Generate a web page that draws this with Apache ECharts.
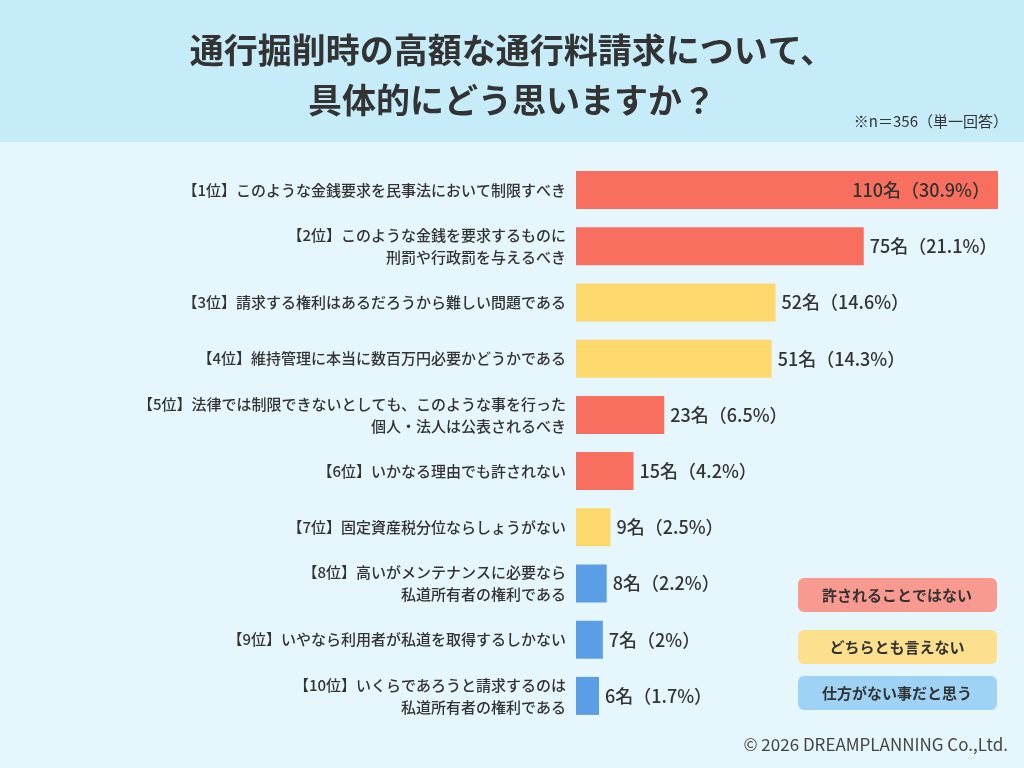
<!DOCTYPE html>
<html><head><meta charset="utf-8">
<script src="https://cdn.jsdelivr.net/npm/echarts@6/dist/echarts.min.js"></script>
<style>html,body{margin:0;padding:0;background:#e6f6fd}#c{width:1024px;height:768px}</style>
</head><body><div id="c"></div>
<script>
var labels = [
  "【1位】このような金銭要求を民事法において制限すべき",
  "【2位】このような金銭を要求するものに\n刑罰や行政罰を与えるべき",
  "【3位】請求する権利はあるだろうから難しい問題である",
  "【4位】維持管理に本当に数百万円必要かどうかである",
  "【5位】法律では制限できないとしても、このような事を行った\n個人・法人は公表されるべき",
  "【6位】いかなる理由でも許されない",
  "【7位】固定資産税分位ならしょうがない",
  "【8位】高いがメンテナンスに必要なら\n私道所有者の権利である",
  "【9位】いやなら利用者が私道を取得するしかない",
  "【10位】いくらであろうと請求するのは\n私道所有者の権利である"
];
var counts = [110, 75, 52, 51, 23, 15, 9, 8, 7, 6];
var percents = ["30.9", "21.1", "14.6", "14.3", "6.5", "4.2", "2.5", "2.2", "2", "1.7"];
var groups = [0, 0, 1, 1, 0, 0, 1, 2, 2, 2];
var groupNames = ["許されることではない", "どちらとも言えない", "仕方がない事だと思う"];
var barColors = ["#f96f5f", "#fdd86c", "#5a9fe6"];
var legendColors = ["#f99a91", "#fde08e", "#9fd3f5"];

var font = "'Noto Sans CJK JP', sans-serif";
var chart = echarts.init(document.getElementById('c'));
var graphics = [
  {type: 'rect', shape: {x: 0, y: 0, width: 1024, height: 142}, style: {fill: '#c6ecf9'}, z: -10},
  {type: 'text', x: 512, y: 50, style: {text: '通行掘削時の高額な通行料請求について、', font: 'bold 34px ' + font, fill: '#333', align: 'center', verticalAlign: 'middle'}},
  {type: 'text', x: 512, y: 100, style: {text: '具体的にどう思いますか？', font: 'bold 34px ' + font, fill: '#333', align: 'center', verticalAlign: 'middle'}},
  {type: 'text', x: 1008, y: 121, style: {text: '※n＝356（単一回答）', font: '15px ' + font, fill: '#333', align: 'right', verticalAlign: 'middle'}},
  {type: 'text', x: 1008, y: 745, style: {text: '© 2026 DREAMPLANNING Co.,Ltd.', font: '17px ' + font, fill: '#444', align: 'right', verticalAlign: 'middle'}}
];
var legendY = [578, 630, 676];
groupNames.forEach(function (n, i) {
  graphics.push({type: 'rect', shape: {x: 798, y: legendY[i], width: 199, height: 34, r: 6}, style: {fill: legendColors[i]}});
  graphics.push({type: 'text', x: 897, y: legendY[i] + 17, style: {text: n, font: 'bold 15px ' + font, fill: '#333', align: 'center', verticalAlign: 'middle'}});
});

chart.setOption({
  backgroundColor: '#e6f6fd',
  animation: false,
  graphic: graphics,
  grid: {left: 576, right: 26, top: 162, bottom: 44},
  xAxis: {type: 'value', min: 0, max: 110, show: false},
  yAxis: {
    type: 'category', inverse: true, data: labels,
    axisLine: {show: false}, axisTick: {show: false},
    axisLabel: {margin: 10, fontSize: 15, color: '#333', fontFamily: font, lineHeight: 22, fontWeight: 500, align: 'right'}
  },
  series: [{
    type: 'bar', barWidth: 38,
    data: counts.map(function (v, i) {
      var d = {value: v, itemStyle: {color: barColors[groups[i]]}};
      if (i === 0) d.label = {position: 'insideRight', distance: 8};
      return d;
    }),
    label: {
      show: true, position: 'right', distance: 6, fontSize: 18, fontWeight: 500, color: '#333', fontFamily: font,
      formatter: function (p) { return counts[p.dataIndex] + '名（' + percents[p.dataIndex] + '%）'; }
    }
  }]
});
</script></body></html>
